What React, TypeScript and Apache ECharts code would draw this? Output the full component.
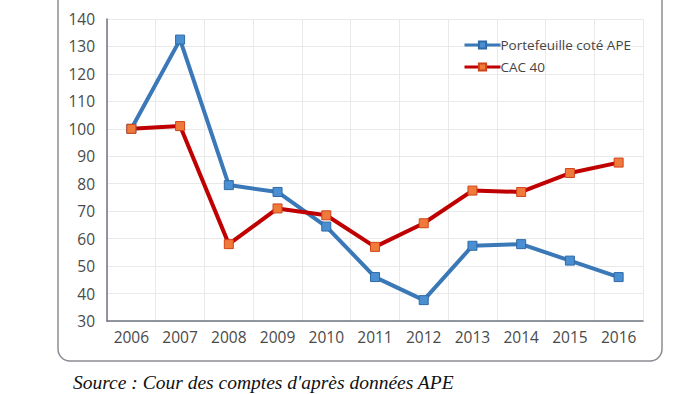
import React, { useEffect, useRef } from "react";
import * as echarts from "echarts";

const years = ["2006", "2007", "2008", "2009", "2010", "2011", "2012", "2013", "2014", "2015", "2016"];
const portefeuille = [100, 132.5, 79.5, 77, 64.4, 46, 37.6, 57.4, 58, 52, 46];
const cac40 = [100, 101, 58, 71, 68.5, 57, 65.6, 77.5, 77, 83.9, 87.7];
const seriesNames = ["Portefeuille coté APE", "CAC 40"];
const sourceText = "Source : Cour des comptes d'après données APE";

export default function App() {
  const ref = useRef<HTMLDivElement>(null);
  useEffect(() => {
    if (!ref.current) return;
    const chart = echarts.init(ref.current, null, { renderer: "svg" });
    chart.setOption({
      animation: false,
      backgroundColor: "#ffffff",
      textStyle: { fontFamily: "Open Sans" },
      grid: { left: 107, right: 57, top: 19, bottom: 73 },
      legend: {
        orient: "vertical",
        left: 458,
        top: 33,
        itemWidth: 36,
        itemHeight: 9,
        itemGap: 8,
        lineStyle: { width: 3 },
        textStyle: { fontSize: 13.5, color: "#444", fontFamily: "Open Sans", padding: [0, 0, 0, -5] },
        data: seriesNames,
      },
      xAxis: {
        type: "category",
        data: years,
        boundaryGap: true,
        axisLine: { show: true, lineStyle: { color: "#6f7480", width: 1.5 } },
        axisTick: { show: false },
        splitLine: { show: true, lineStyle: { color: "#e9e9e9", width: 1 } },
        axisLabel: { fontSize: 15.5, color: "#4a4a4a", margin: 8, fontFamily: "Open Sans" },
      },
      yAxis: {
        type: "value",
        min: 30,
        max: 140,
        interval: 10,
        axisLine: { show: true, lineStyle: { color: "#6f7480", width: 1.5 } },
        axisTick: { show: false },
        splitLine: { show: true, lineStyle: { color: "#e9e9e9", width: 1 } },
        axisLabel: { fontSize: 15.5, color: "#4a4a4a", margin: 12, fontFamily: "Open Sans" },
      },
      series: [
        {
          name: seriesNames[0],
          type: "line",
          data: portefeuille,
          symbol: "rect",
          symbolSize: 9,
          lineStyle: { color: "#3a78b8", width: 4 },
          itemStyle: { color: "#4a8fd2", borderColor: "#2f6aa6", borderWidth: 1 },
        },
        {
          name: seriesNames[1],
          type: "line",
          data: cac40,
          symbol: "rect",
          symbolSize: 9,
          lineStyle: { color: "#c00000", width: 4 },
          itemStyle: { color: "#f07a3a", borderColor: "#d0441a", borderWidth: 1 },
        },
      ],
      graphic: [
        {
          type: "rect",
          shape: { x: 58, y: -12, width: 604, height: 373, r: 12 },
          style: { fill: "none", stroke: "#8a8d93", lineWidth: 1.5 },
          z: -1,
        },
        {
          type: "text",
          left: 73,
          top: 372,
          style: {
            text: sourceText,
            font: "italic 19.5px 'Liberation Serif'",
            fill: "#111",
          },
        },
      ],
    });
    return () => chart.dispose();
  }, []);
  return <div ref={ref} style={{ position: "fixed", left: 0, top: 0, width: 700, height: 394 }} />;
}
